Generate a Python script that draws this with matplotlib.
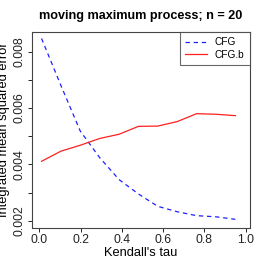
import matplotlib
matplotlib.use("Agg")
import matplotlib.pyplot as plt

plt.rcParams['font.family'] = ['Liberation Sans', 'DejaVu Sans']

tau = [0.01, 0.104, 0.198, 0.292, 0.386, 0.48, 0.574, 0.668, 0.762, 0.856, 0.95]
cfg = [0.00847, 0.00680, 0.00518, 0.00424, 0.00346, 0.00295, 0.00251,
       0.00232, 0.00218, 0.00214, 0.00205]
cfg_b = [0.00411, 0.00447, 0.00468, 0.00492, 0.00507, 0.00535, 0.00536,
         0.00552, 0.00580, 0.00578, 0.00573]

xticks = [0.0, 0.2, 0.4, 0.6, 0.8, 1.0]
yticks = [0.002, 0.003, 0.004, 0.005, 0.006, 0.007, 0.008]
ylabels = ['0.002', '', '0.004', '', '0.006', '', '0.008']

fig = plt.figure(figsize=(2.66, 2.66), dpi=100)
ax = fig.add_axes([31.5/266, 38.5/266, 218.5/266, 195.8/266])

ax.plot(tau, cfg, color='#2020FF', linestyle=(0, (3.5, 3)), linewidth=0.9, label='CFG')
ax.plot(tau, cfg_b, color='#FF2020', linewidth=0.9, label='CFG.b')

ax.set_xlim(-0.0387, 1.021)
ax.set_ylim(0.00176, 0.00871)
ax.set_xticks(xticks)
ax.set_xticklabels(['0.0', '0.2', '0.4', '0.6', '0.8', '1.0'])
ax.set_yticks(yticks)
ax.set_yticklabels(ylabels, rotation=90, va='center')
ax.tick_params(direction='out', length=3, width=0.7, labelsize=8.7, colors='#222222')
ax.tick_params(axis='x', pad=1.5)
ax.tick_params(axis='y', pad=1.2)
for s in ax.spines.values():
    s.set_linewidth(0.8)
    s.set_color('#444444')

ax.set_xlabel("Kendall's tau", fontsize=9.3, labelpad=1)
ax.set_ylabel('Integrated mean squared error', fontsize=9.3)
ax.yaxis.set_label_coords(-0.1, 0.5)
ax.set_title('moving maximum process; n = 20', fontsize=9.1, fontweight='bold', pad=9)

leg = ax.legend(loc='upper right', fontsize=7.3, frameon=True, fancybox=False,
                borderaxespad=0, handlelength=2.1, handletextpad=0.8,
                borderpad=0.55, labelspacing=0.25)
leg.get_frame().set_edgecolor('#444444')
leg.get_frame().set_linewidth(0.8)

fig.savefig('out.png', dpi=100)
